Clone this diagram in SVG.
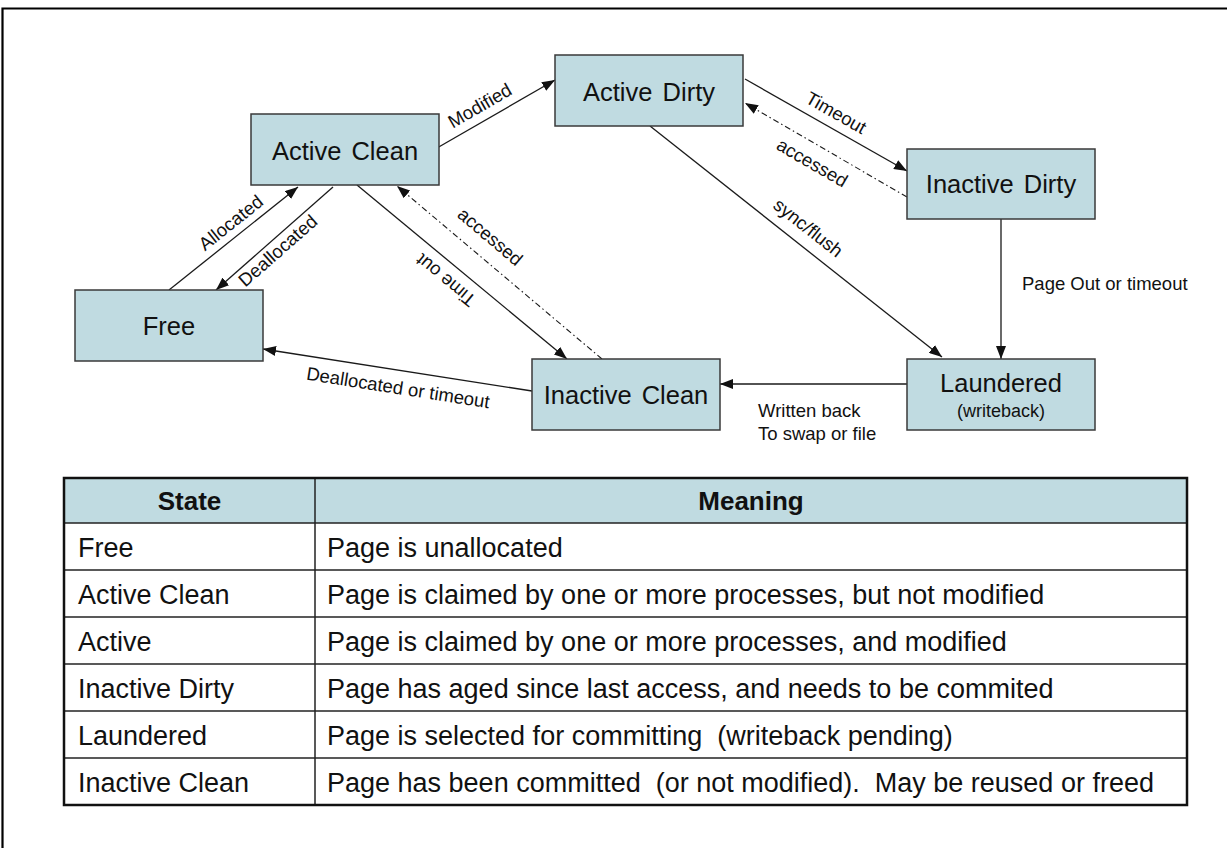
<svg xmlns="http://www.w3.org/2000/svg" width="1227" height="848" viewBox="0 0 1227 848">
  <style>
    .node rect { fill: #c0dbe1; stroke: #3a3a3a; stroke-width: 1.5; }
    .node text { font-family: "Liberation Sans", Arial, sans-serif; font-size: 25.5px; word-spacing: 3px; fill: #111; text-anchor: middle; }
    .node text.sub { font-size: 18px; word-spacing: 0; }
    .edge { fill: none; stroke: #1a1a1a; stroke-width: 1.3; }
    .dashdot { stroke-dasharray: 6 3 1.5 3; stroke-width: 1.1; }
    .lbl { font-family: "Liberation Sans", Arial, sans-serif; font-size: 18.5px; fill: #111; }
    .lbl.c { text-anchor: middle; }
    .cell { font-family: "Liberation Sans", Arial, sans-serif; font-size: 27px; fill: #111; }
    .head { font-family: "Liberation Sans", Arial, sans-serif; font-size: 26px; font-weight: bold; fill: #111; text-anchor: middle; }
    .grid { stroke: #222; stroke-width: 1.5; fill: none; }
  </style>
  <defs>
    <marker id="arrow" markerUnits="userSpaceOnUse" markerWidth="13" markerHeight="10" refX="13" refY="5" orient="auto">
      <path d="M0,0 L13,5 L0,10 z" fill="#111"/>
    </marker>
  </defs>

  <rect x="0" y="0" width="1227" height="848" fill="#fff"/>
  <!-- page frame -->
  <path d="M2.5,848 V8.5 H1227" fill="none" stroke="#000" stroke-width="2.2"/>

  <!-- transitions -->
  <g id="connectors">
    <line class="edge" x1="169" y1="290" x2="298" y2="187" marker-end="url(#arrow)"/>
    <line class="edge" x1="333" y1="187" x2="216" y2="290" marker-end="url(#arrow)"/>
    <line class="edge" x1="437" y1="148" x2="555" y2="80" marker-end="url(#arrow)"/>
    <line class="edge" x1="357" y1="185" x2="567" y2="359" marker-end="url(#arrow)"/>
    <line class="edge dashdot" x1="602" y1="359" x2="397" y2="186" marker-end="url(#arrow)"/>
    <line class="edge" x1="745" y1="79" x2="907" y2="171" marker-end="url(#arrow)"/>
    <line class="edge dashdot" x1="907" y1="197" x2="745" y2="103" marker-end="url(#arrow)"/>
    <line class="edge" x1="650" y1="126" x2="942" y2="357" marker-end="url(#arrow)"/>
    <line class="edge" x1="1001" y1="219" x2="1001" y2="359" marker-end="url(#arrow)"/>
    <line class="edge" x1="907" y1="384" x2="720" y2="384" marker-end="url(#arrow)"/>
    <line class="edge" x1="532" y1="391" x2="263" y2="349" marker-end="url(#arrow)"/>

    <text class="lbl c" transform="translate(231,223) rotate(-38.6)" y="6">Allocated</text>
    <text class="lbl c" transform="translate(278,251) rotate(-41.4)" y="6">Deallocated</text>
    <text class="lbl c" transform="translate(480,106) rotate(-30)" y="6">Modified</text>
    <text class="lbl c" transform="translate(446,280) rotate(219.6)" y="6">Time out</text>
    <text class="lbl c" transform="translate(490,237) rotate(40.2)" y="6">accessed</text>
    <text class="lbl c" transform="translate(836,113) rotate(29.6)" y="6">Timeout</text>
    <text class="lbl c" transform="translate(812,163) rotate(30.1)" y="6">accessed</text>
    <text class="lbl c" transform="translate(808,228) rotate(38.3)" y="6">sync/flush</text>
    <text class="lbl c" transform="translate(398,388) rotate(8.9)" y="6">Deallocated or timeout</text>
    <text class="lbl" x="1022" y="290">Page Out or timeout</text>
    <text class="lbl" x="758" y="417">Written back</text>
    <text class="lbl" x="758" y="440">To swap or file</text>
  </g>

  <!-- states -->
  <g id="active-clean" class="node">
    <rect x="251" y="114" width="188" height="71"/>
    <text x="345" y="160">Active Clean</text>
  </g>
  <g id="active-dirty" class="node">
    <rect x="555" y="55" width="188" height="71"/>
    <text x="649" y="101">Active Dirty</text>
  </g>
  <g id="inactive-dirty" class="node">
    <rect x="907" y="149" width="188" height="70"/>
    <text x="1001" y="193">Inactive Dirty</text>
  </g>
  <g id="free" class="node">
    <rect x="75" y="290" width="188" height="71"/>
    <text x="169" y="335">Free</text>
  </g>
  <g id="inactive-clean" class="node">
    <rect x="532" y="359" width="188" height="71"/>
    <text x="626" y="404">Inactive Clean</text>
  </g>
  <g id="laundered" class="node">
    <rect x="907" y="359" width="188" height="71"/>
    <text x="1001" y="392">Laundered</text>
    <text class="sub" x="1001" y="417">(writeback)</text>
  </g>

  <!-- state legend table -->
  <g id="legend">
    <rect x="64" y="478" width="1123" height="45" fill="#c0dbe1"/>
    <line class="grid" x1="64" y1="523" x2="1187" y2="523"/>
    <line class="grid" x1="64" y1="570" x2="1187" y2="570"/>
    <line class="grid" x1="64" y1="617" x2="1187" y2="617"/>
    <line class="grid" x1="64" y1="664" x2="1187" y2="664"/>
    <line class="grid" x1="64" y1="711" x2="1187" y2="711"/>
    <line class="grid" x1="64" y1="758" x2="1187" y2="758"/>
    <line class="grid" x1="315" y1="478" x2="315" y2="805"/>
    <rect x="64" y="478" width="1123" height="327" fill="none" stroke="#111" stroke-width="2.5"/>

    <text class="head" x="189.5" y="510">State</text>
    <text class="head" x="751" y="510">Meaning</text>

    <text class="cell" x="78" y="556.5">Free</text>
    <text class="cell" x="327" y="556.5">Page is unallocated</text>
    <text class="cell" x="78" y="603.5">Active Clean</text>
    <text class="cell" x="327" y="603.5">Page is claimed by one or more processes, but not modified</text>
    <text class="cell" x="78" y="650.5">Active</text>
    <text class="cell" x="327" y="650.5">Page is claimed by one or more processes, and modified</text>
    <text class="cell" x="78" y="697.5">Inactive Dirty</text>
    <text class="cell" x="327" y="697.5">Page has aged since last access, and needs to be commited</text>
    <text class="cell" x="78" y="744.5">Laundered</text>
    <text class="cell" x="327" y="744.5" xml:space="preserve">Page is selected for committing  (writeback pending)</text>
    <text class="cell" x="78" y="791.5">Inactive Clean</text>
    <text class="cell" x="327" y="791.5" xml:space="preserve">Page has been committed  (or not modified).  May be reused or freed</text>
  </g>
</svg>
